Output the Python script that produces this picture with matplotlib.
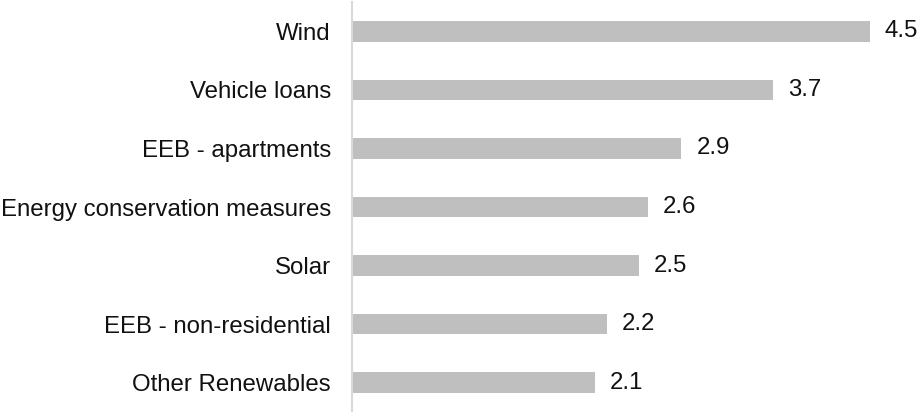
import matplotlib
matplotlib.use("Agg")
import matplotlib.pyplot as plt

categories = ["Wind", "Vehicle loans", "EEB - apartments", "Energy conservation measures",
              "Solar", "EEB - non-residential", "Other Renewables"]
values = [4.5, 3.66, 2.86, 2.57, 2.49, 2.21, 2.11]
value_labels = ["4.5", "3.7", "2.9", "2.6", "2.5", "2.2", "2.1"]

plt.rcParams['font.family'] = ['Liberation Sans', 'DejaVu Sans']

fig = plt.figure(figsize=(9.2, 4.12), dpi=100)
left = 353 / 920
ax = fig.add_axes([left, 0.0, 1 - left, 1 - 2 / 412])

for s in ["top", "right", "bottom"]:
    ax.spines[s].set_visible(False)
ax.spines["left"].set_position(("outward", 1))
ax.spines["left"].set_color("#d9d9d9")
ax.spines["left"].set_linewidth(1.5)

y = list(range(len(categories)))
ax.barh(y, values, height=0.35, color="#bfbfbf", edgecolor="none")
ax.set_ylim(len(categories) - 0.5, -0.5)
px_per_unit = 516.5 / 4.5
ax.set_xlim(0, (920 - 353) / px_per_unit)

fs = 17.3
for yi, v, lab in zip(y, values, value_labels):
    ax.annotate(lab, (v, yi), xytext=(15, 0), textcoords="offset pixels",
                va="center", ha="left", fontsize=fs, color="#111111")

ax.set_yticks(y)
ax.set_yticklabels(categories, fontsize=fs, color="#111111")
ax.tick_params(axis="y", length=0, pad=15)
ax.set_xticks([])

fig.savefig("out.png", dpi=100)
